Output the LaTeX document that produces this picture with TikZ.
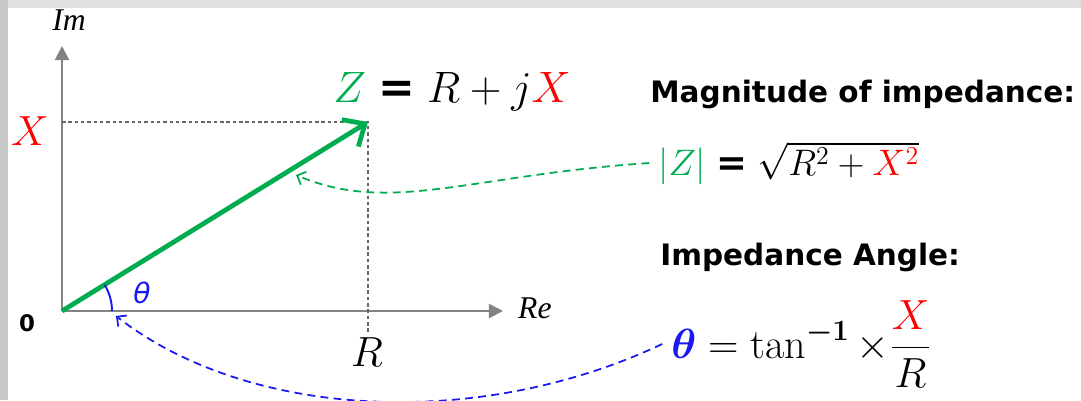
\RequirePackage{fix-cm}
\documentclass[tikz,border=0pt]{standalone}
\usepackage{bm}
\usepackage{fontspec}
\newfontfamily\labelfont{DejaVu Sans}
\newfontfamily\axisfont{Liberation Serif}
\usetikzlibrary{arrows.meta}

\definecolor{zgreen}{RGB}{0,172,80}
\definecolor{xred}{RGB}{255,0,0}
\definecolor{tblue}{RGB}{25,25,240}
\definecolor{axisgray}{RGB}{130,130,130}
\newcommand{\fsz}[1]{\fontsize{#1}{#1}\selectfont}
\newcommand{\seq}{\mathrel{\hbox{\labelfont\bfseries =}}}

\begin{document}
\begin{tikzpicture}[
    x=0.02cm, y=-0.02cm,
    axis/.style={draw=axisgray, line width=1.1pt,
                 -{Triangle[length=8pt, width=8pt]}},
    guide/.style={draw=black!60, line width=0.7pt,
                  dash pattern=on 2pt off 1.6pt},
    vec/.style={draw=zgreen, line width=2.7pt,
                -{Straight Barb[length=10pt, width=18pt]}},
    link/.style={line width=1pt, dash pattern=on 4.5pt off 3pt,
                 -{Straight Barb[length=4pt, width=8pt]}},
    title/.style={font=\labelfont\bfseries\fsz{16.8pt}, anchor=west, inner sep=0pt},
    formula/.style={anchor=west, inner sep=0pt}]
  % background frame
  \useasboundingbox (0,0) rectangle (1081,400);
  \fill[black!12] (0,0) rectangle (1081,8);
  \fill[black!22] (0,0) rectangle (8,400);
  \fill[white] (8,8) rectangle (1081,400);

  % axes
  \coordinate (O) at (62,311);
  \coordinate (imtip) at (62,46);
  \coordinate (retip) at (503,311);
  \coordinate (P) at (368,122);
  \coordinate (Xm) at (62,122);
  \coordinate (Rm) at (368,334);
  \coordinate (ztip) at (296,175);
  \coordinate (thetatip) at (116,316);
  \draw[axis] (O) -- (imtip);
  \draw[axis] (O) -- (retip);
  \node[font=\axisfont\itshape\fsz{18pt}] (im) at (69,20) {Im};
  \node[font=\axisfont\itshape\fsz{18pt}, anchor=west] (re) at (512,308) {Re};
  \node[font=\labelfont\bfseries\fsz{13pt}] (zero) at (27,323) {0};
  \node[font=\fsz{24pt}, text=xred] (xlab) at (30,131) {$X$};
  \node[font=\fsz{24pt}] (rlab) at (367,352) {$R$};

  % phasor
  \draw[guide] (Xm) -- (P) -- (Rm);
  \draw[vec] (O) -- (P);
  \draw[tblue, line width=1.1pt] (O) ++(50,0) arc[start angle=0, end angle=-31.6, radius=50];
  \node[font=\labelfont\itshape\fsz{16pt}, text=tblue] (theta) at (142,293) {θ};
  \node[font=\fsz{25pt}] (zeq) at (452,92) {$\color{zgreen}Z\color{black} \seq R+j{\color{xred}X}$};

  % formulas
  \node[title] (magtitle) at (650,94) {Magnitude of impedance:};
  \node[formula, font=\fsz{21pt}] (magf) at (658,163)
    {$\color{zgreen}|Z|\color{black} \seq \sqrt{R^2+{\color{xred}X^2}}$};
  \node[title] (angtitle) at (660,257) {Impedance Angle:};
  \node[formula, font=\fsz{24pt}] (angf) at (671,344)
    {$\displaystyle{\color{tblue}\bm{\theta}} = \tan^{\bm{-1}} \times \frac{\color{xred}X}{R}$};

  % links
  \draw[link, zgreen] ([xshift=-5pt]magf.west) .. controls (470,175) and (390,215) .. (ztip);
  \draw[link, tblue] ([xshift=-5pt]angf.west) .. controls (480,430) and (250,420) .. (thetatip);
\end{tikzpicture}
\end{document}
